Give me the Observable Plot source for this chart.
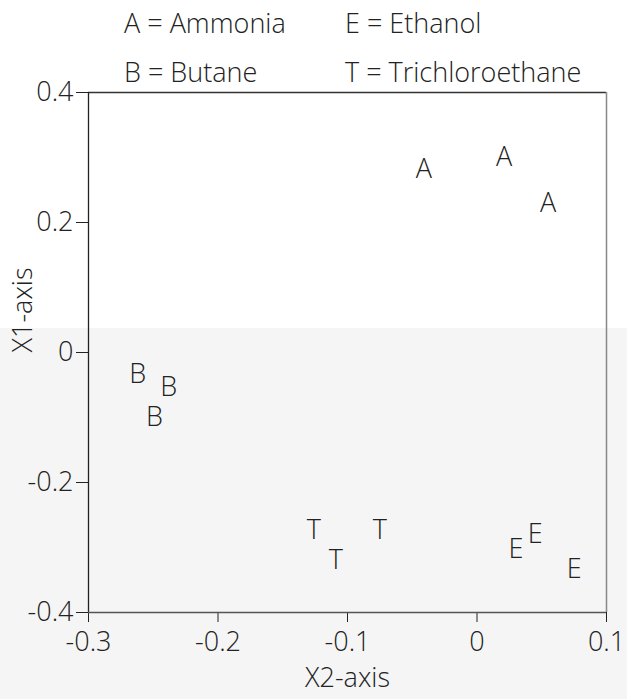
<!DOCTYPE html>
<html>
<head>
<meta charset="utf-8">
<script src="https://cdn.jsdelivr.net/npm/d3@7"></script>
<script src="https://cdn.jsdelivr.net/npm/@observablehq/plot@0.6"></script>
<style>
  html, body { margin: 0; padding: 0; }
  body {
    width: 627px; height: 699px; overflow: hidden;
    background: linear-gradient(to bottom, #ffffff 0px, #ffffff 328px, #f5f5f5 328px, #f5f5f5 699px);
    font-family: "Open Sans", sans-serif; font-weight: 300; color: #222;
  }
  #legend { position: relative; height: 60px; width: 627px; font-size: 27px; }
  #legend span { position: absolute; white-space: nowrap; line-height: 1; }
  #chart svg { display: block; font-weight: 300; }
</style>
</head>
<body>
<div id="legend"></div>
<div id="chart"></div>
<script>
// ---- data ----
const letters = ["A", "A", "A", "B", "B", "B", "T", "T", "T", "E", "E", "E"];
const x2Values = [-0.041, 0.021, 0.055, -0.262, -0.238, -0.249, -0.126, -0.109, -0.075, 0.030, 0.045, 0.075];
const x1Values = [0.282, 0.300, 0.229, -0.034, -0.054, -0.100, -0.274, -0.320, -0.274, -0.303, -0.280, -0.334];

const legendKeys = ["A", "E", "B", "T"];
const legendNames = ["Ammonia", "Ethanol", "Butane", "Trichloroethane"];

const xTicks = [-0.3, -0.2, -0.1, 0, 0.1];
const yTicks = [-0.4, -0.2, 0, 0.2, 0.4];
const xDomain = [-0.3, 0.1];
const yDomain = [-0.4, 0.4];
const xLabel = "X2-axis";
const yLabel = "X1-axis";

// ---- legend (HTML, above the SVG) ----
const legend = document.getElementById("legend");
const legendPos = [[124, 9], [345, 9], [124, 58], [345, 58]];
legendKeys.forEach((k, i) => {
  const s = document.createElement("span");
  s.textContent = `${k} = ${legendNames[i]}`;
  s.style.left = legendPos[i][0] + "px";
  s.style.top = legendPos[i][1] + "px";
  legend.appendChild(s);
});

// ---- chart ----
const points = letters.map((l, i) => ({label: l, x: x2Values[i], y: x1Values[i]}));
const fmt = d => String(d);
const font = 27;

const chart = Plot.plot({
  width: 627,
  height: 639,
  marginTop: 32,
  marginBottom: 87,
  marginLeft: 88,
  marginRight: 21,
  style: {background: "transparent", fontFamily: "'Open Sans', sans-serif", color: "#222"},
  x: {domain: xDomain},
  y: {domain: yDomain},
  marks: [
    Plot.axisX({ticks: xTicks, tickFormat: fmt, tickSize: 10, tickPadding: 9, fontSize: font, label: null, stroke: "#222"}),
    Plot.axisY({ticks: yTicks, tickFormat: fmt, tickSize: 12, tickPadding: 3, fontSize: font, label: null, stroke: "#222"}),
    Plot.ruleY([yDomain[1]], {stroke: "#333", strokeWidth: 1.3}),
    Plot.ruleX([xDomain[1]], {stroke: "#888", strokeWidth: 1.5}),
    Plot.ruleX([xDomain[0]], {stroke: "#222", strokeWidth: 1.3}),
    Plot.ruleY([yDomain[0]], {stroke: "#555", strokeWidth: 1.3}),
    Plot.text(points, {x: "x", y: "y", text: "label", fontSize: font, fill: "#222"}),
    Plot.text([yLabel], {frameAnchor: "left", rotate: -90, dx: -65, fontSize: font, fill: "#222"}),
    Plot.text([xLabel], {frameAnchor: "bottom", dy: 74, fontSize: font, fill: "#222"})
  ]
});
document.getElementById("chart").appendChild(chart);
</script>
</body>
</html>
